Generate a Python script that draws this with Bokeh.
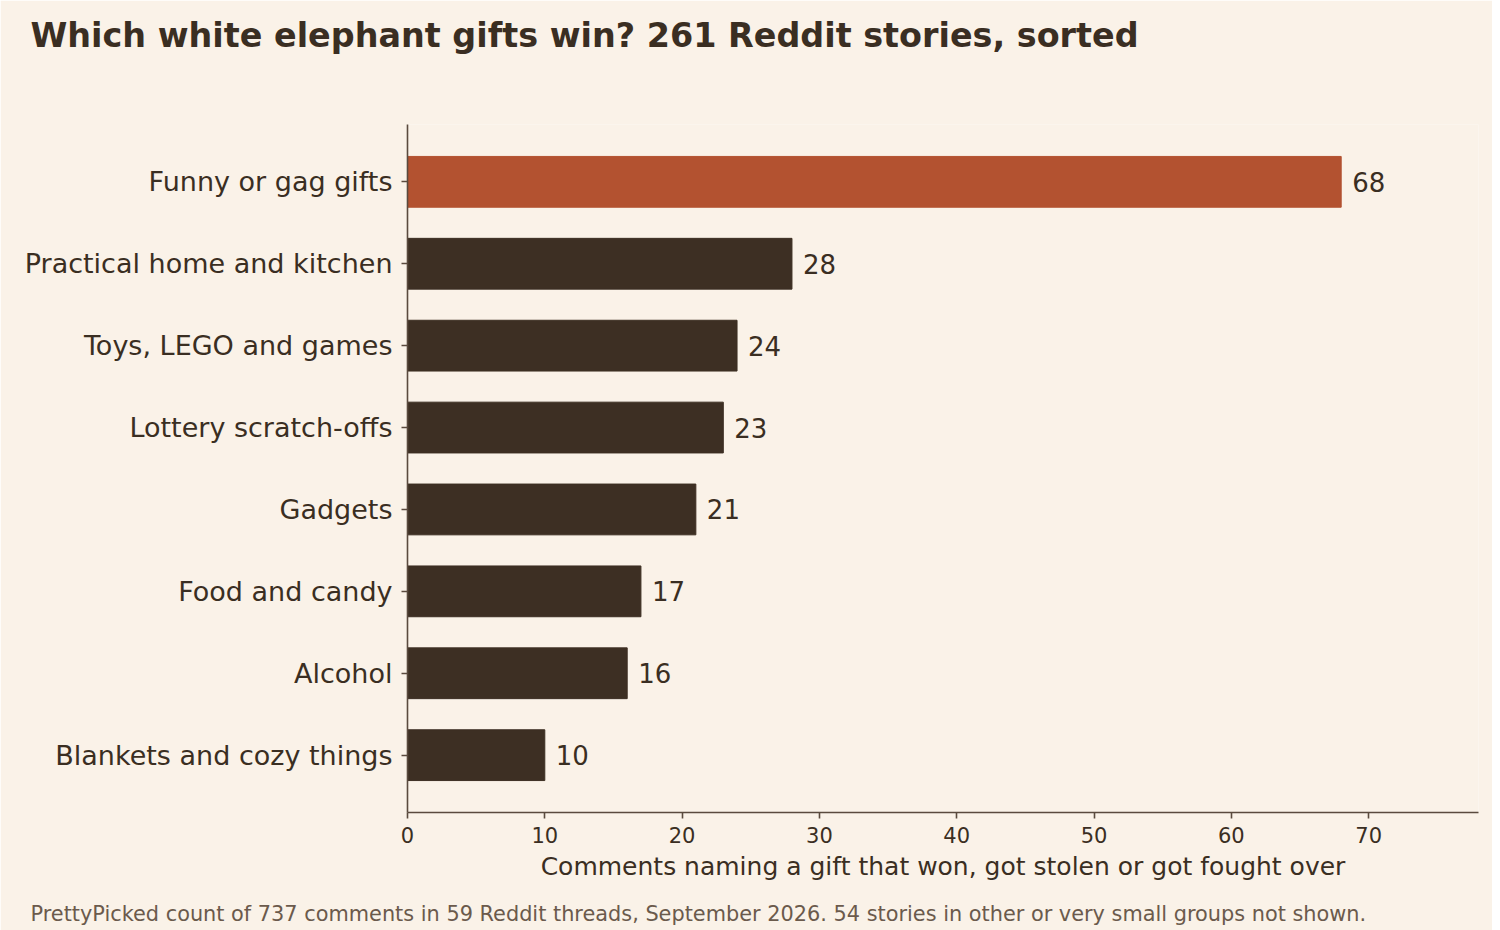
from bokeh.plotting import figure
from bokeh.models import Range1d, Title, FixedTicker, ColumnDataSource
from bokeh.core.properties import value
from bokeh.embed import file_html
from bokeh.resources import INLINE

categories = ["Funny or gag gifts", "Practical home and kitchen", "Toys, LEGO and games",
              "Lottery scratch-offs", "Gadgets", "Food and candy", "Alcohol",
              "Blankets and cozy things"]
counts = [68, 28, 24, 23, 21, 17, 16, 10]
x_ticks = [0, 10, 20, 30, 40, 50, 60, 70]
highlight = "Funny or gag gifts"

title_text = "Which white elephant gifts win? 261 Reddit stories, sorted"
x_label = "Comments naming a gift that won, got stolen or got fought over"
footer_text = ("PrettyPicked count of 737 comments in 59 Reddit threads, September 2026. "
               "54 stories in other or very small groups not shown.")

BG = "#FAF2E8"
DARK = "#3D2F23"
ACCENT = "#B35230"
TEXT = "#3A2E22"
AXIS = "#5A4A3E"
FONT = "DejaVu Sans"

ypos = list(range(len(categories)))
colors = [ACCENT if c == highlight else DARK for c in categories]
src = ColumnDataSource(dict(y=ypos, count=counts, color=colors,
                            label=[str(v) for v in counts]))

p = figure(frame_width=1071, frame_height=688,
           x_range=Range1d(0, 78), y_range=Range1d(len(categories) - 0.3, -0.7),
           output_backend="svg", toolbar_location=None, title=None,
           min_border_left=407, min_border_right=14, min_border_top=124, min_border_bottom=109)
p.background_fill_color = BG
p.border_fill_color = BG
p.outline_line_color = None
p.grid.visible = False

p.hbar(y="y", left=0, right="count", height=0.62, color="color", source=src)
p.text(x="count", y="y", text="label", source=src, x_offset=11,
       text_baseline="middle", text_align="left", text_font=value(FONT),
       text_font_size="26px", text_color=TEXT)

p.yaxis.ticker = FixedTicker(ticks=ypos)
p.yaxis.major_label_overrides = {i: c for i, c in enumerate(categories)}
p.xaxis.ticker = FixedTicker(ticks=x_ticks)
for ax in (p.xaxis, p.yaxis):
    ax.axis_line_color = AXIS
    ax.axis_line_width = 1.6
    ax.major_tick_line_color = AXIS
    ax.major_tick_line_width = 1.6
    ax.major_tick_out = 6
    ax.major_tick_in = 0
    ax.minor_tick_line_color = None
    ax.major_label_text_font = FONT
    ax.major_label_text_color = TEXT
p.yaxis.major_label_text_font_size = "27px"
p.yaxis.major_label_standoff = 9
p.xaxis.major_label_text_font_size = "21px"
p.xaxis.major_label_standoff = 8
p.xaxis.axis_label = x_label
p.xaxis.axis_label_text_font = FONT
p.xaxis.axis_label_text_font_size = "25px"
p.xaxis.axis_label_text_font_style = "normal"
p.xaxis.axis_label_text_color = TEXT
p.xaxis.axis_label_standoff = 6

# spacer between frame and title, then the title itself
p.add_layout(Title(text=" ", text_font_size="48px", text_color=BG), "above")
p.add_layout(Title(text=title_text, align="left", offset=-377, text_font=FONT,
                   text_font_size="33.4px", text_font_style="bold", text_color=TEXT), "above")

# footer below the axis
p.add_layout(Title(text=footer_text, align="left", offset=-377, standoff=32, text_font=FONT,
                   text_font_size="20.85px", text_font_style="normal",
                   text_color="#6B5A4C"), "below")

open("out.html", "w").write(file_html(p, INLINE))
